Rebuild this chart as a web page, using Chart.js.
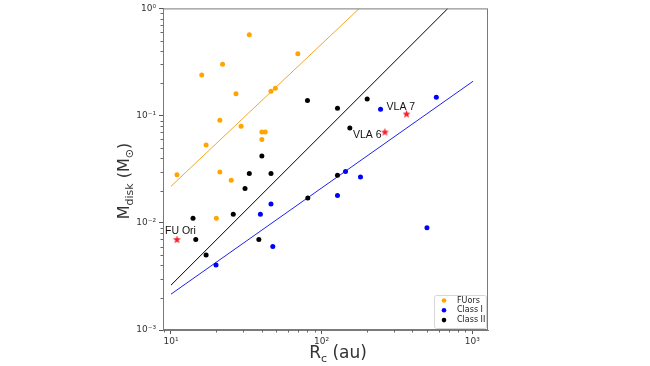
<!DOCTYPE html>
<html>
<head>
<meta charset="utf-8">
<script src="https://cdn.jsdelivr.net/npm/chart.js@4.4.1/dist/chart.umd.min.js"></script>
<style>
  html, body { margin: 0; padding: 0; background: #fff; }
  canvas { display: block; }
</style>
</head>
<body>
<canvas id="diskChart" width="650" height="366"></canvas>
<script>
// values: R_c in au, M_disk in solar masses
var fuorsR = [33.1, 69.5, 16.0, 22.0, 27.0, 46.1, 49.3, 21.1, 29.2, 40.1, 42.2, 40.1, 17.1, 10.96, 21.1, 25.1, 20.0];
var fuorsM = [0.569, 0.378, 0.239, 0.301, 0.160, 0.169, 0.180, 0.0904, 0.0795, 0.0703, 0.0703, 0.0597, 0.0532, 0.028, 0.0298, 0.0250, 0.011];

var classIR = [577, 246, 144, 181, 127.4, 500, 39.2, 46.1, 47.4, 19.9];
var classIM = [0.148, 0.1145, 0.0301, 0.0268, 0.0180, 0.00897, 0.012, 0.015, 0.0060, 0.00403];

var classIIR = [80.5, 127.4, 200.5, 153.8, 40.1, 33.1, 46.1, 31.0, 25.9, 14.0, 14.6, 17.1, 38.3, 80.9, 127.4];
var classIIM = [0.138, 0.117, 0.143, 0.0766, 0.042, 0.0288, 0.0288, 0.0209, 0.0120, 0.0110, 0.00698, 0.0050, 0.00698, 0.0170, 0.0278];

// named sources (red stars)
var starNames = ['FU Ori', 'VLA 7', 'VLA 6'];
var starR = [10.96, 366, 263];
var starM = [0.00698, 0.1035, 0.0703];

// fitted lines, two end points each
var fitFuorsR = [10, 178];
var fitFuorsM = [0.0219, 1.0];
var fitClassIIR = [10, 689];
var fitClassIIM = [0.00262, 1.0];
var fitClassIR = [10, 1011];
var fitClassIM = [0.00216, 0.209];

var xMajor = [10, 100, 1000];
var yMajor = [0.001, 0.01, 0.1, 1];

function pts(xs, ys) {
  return xs.map(function (x, i) { return { x: x, y: ys[i] }; });
}

function powLabel(v) {
  var e = Math.round(Math.log10(v));
  var sup = { '-': '\u207B', '0': '\u2070', '1': '\u00B9', '2': '\u00B2', '3': '\u00B3' };
  return '10' + String(e).split('').map(function (c) { return sup[c]; }).join('');
}

// filled red star used as point style
var starImg = document.createElement('canvas');
starImg.width = 9;
starImg.height = 9;
(function () {
  var c = starImg.getContext('2d');
  c.beginPath();
  for (var i = 0; i < 10; i++) {
    var r = i % 2 === 0 ? 4.2 : 1.8;
    var a = -Math.PI / 2 + i * Math.PI / 5;
    var px = 4.5 + r * Math.cos(a), py = 4.8 + r * Math.sin(a);
    if (i === 0) c.moveTo(px, py); else c.lineTo(px, py);
  }
  c.closePath();
  c.fillStyle = '#f0202a';
  c.fill();
})();

Chart.defaults.font.family = 'DejaVu Sans';

var extras = {
  id: 'extras',
  afterDraw: function (chart) {
    var ctx = chart.ctx;
    var a = chart.chartArea;
    var xs = chart.scales.x, ys = chart.scales.y;
    ctx.save();

    // minor ticks
    ctx.strokeStyle = '#666';
    ctx.lineWidth = 1;
    for (var e = 0; e <= 3; e++) {
      for (var k = 2; k <= 9; k++) {
        var v = k * Math.pow(10, e);
        if (v < xs.min || v > xs.max) continue;
        var px = Math.round(xs.getPixelForValue(v)) + 0.5;
        ctx.beginPath(); ctx.moveTo(px, a.bottom); ctx.lineTo(px, a.bottom + 2.5); ctx.stroke();
      }
    }
    for (var e2 = -3; e2 <= -1; e2++) {
      for (var k2 = 2; k2 <= 9; k2++) {
        var v2 = k2 * Math.pow(10, e2);
        var py = Math.round(ys.getPixelForValue(v2)) + 0.5;
        ctx.beginPath(); ctx.moveTo(a.left, py); ctx.lineTo(a.left - 2.5, py); ctx.stroke();
      }
    }

    // frame
    ctx.strokeStyle = '#7a7a7a';
    ctx.strokeRect(a.left + 0.5, a.top + 0.5, a.right - a.left - 1, a.bottom - a.top - 1);

    // star labels
    ctx.fillStyle = '#111';
    ctx.font = '10.5px "Liberation Sans"';
    ctx.textBaseline = 'alphabetic';
    var offs = [[-12, -6], [-20, -4], [-32, 6]];
    starNames.forEach(function (n, i) {
      var sx = xs.getPixelForValue(starR[i]);
      var sy = ys.getPixelForValue(starM[i]);
      ctx.fillText(n, sx + offs[i][0], sy + offs[i][1]);
    });

    // axis titles with subscripts
    function runs(parts, x, y, measureOnly) {
      var w = 0;
      parts.forEach(function (p) {
        ctx.font = p[1] + 'px "DejaVu Sans"';
        if (!measureOnly) ctx.fillText(p[0], x + w, y + p[2]);
        w += ctx.measureText(p[0]).width;
      });
      return w;
    }
    ctx.fillStyle = '#333';
    var xt = [['R', 17, 0], ['c', 11, 4], [' (au)', 17, 0]];
    var wx = runs(xt, 0, 0, true);
    runs(xt, 338 - wx / 2, 358, false);

    var yt = [['M', 16, 0], ['disk', 11, 4], [' (M', 16, 0], ['\u2299', 11, 4], [')', 16, 0]];
    var wy = runs(yt, 0, 0, true);
    ctx.save();
    ctx.translate(129, 181);
    ctx.rotate(-Math.PI / 2);
    runs(yt, -wy / 2, 0, false);
    ctx.restore();

    // legend
    var lx = 434, ly = 295, lw = 52, lh = 33;
    ctx.beginPath();
    ctx.roundRect(lx + 0.5, ly + 0.5, lw, lh, 2);
    ctx.fillStyle = 'rgba(255,255,255,0.85)';
    ctx.fill();
    ctx.strokeStyle = '#d6d6d6';
    ctx.stroke();
    var leg = [['FUors', '#ffa500'], ['Class I', '#0000ff'], ['Class II', '#000000']];
    ctx.font = '8px "DejaVu Sans"';
    ctx.textBaseline = 'middle';
    leg.forEach(function (l, i) {
      var cy = ly + 5.5 + i * 9.8;
      ctx.beginPath();
      ctx.arc(444, cy, 2.3, 0, Math.PI * 2);
      ctx.fillStyle = l[1];
      ctx.fill();
      ctx.fillStyle = '#222';
      ctx.fillText(l[0], 457, cy);
    });
    ctx.restore();
  }
};

var diskChart = new Chart(document.getElementById('diskChart'), {
  type: 'scatter',
  data: {
    datasets: [
      { label: 'named', data: pts(starR, starM), pointStyle: starImg, order: 0 },
      { label: 'FUors', data: pts(fuorsR, fuorsM), backgroundColor: '#ffa500', borderWidth: 0, pointRadius: 2.5, order: 1 },
      { label: 'Class I', data: pts(classIR, classIM), backgroundColor: '#0000ff', borderWidth: 0, pointRadius: 2.5, order: 2 },
      { label: 'Class II', data: pts(classIIR, classIIM), backgroundColor: '#000000', borderWidth: 0, pointRadius: 2.5, order: 3 },
      { type: 'line', label: 'fit FUors', data: pts(fitFuorsR, fitFuorsM), borderColor: '#f5a623', borderWidth: 1, pointRadius: 0, order: 4 },
      { type: 'line', label: 'fit Class II', data: pts(fitClassIIR, fitClassIIM), borderColor: '#000000', borderWidth: 1, pointRadius: 0, order: 5 },
      { type: 'line', label: 'fit Class I', data: pts(fitClassIR, fitClassIM), borderColor: '#2020ee', borderWidth: 1, pointRadius: 0, order: 6 }
    ]
  },
  options: {
    responsive: false,
    animation: false,
    layout: { padding: { left: 0, top: 8, right: 162, bottom: 0 } },
    plugins: { legend: { display: false }, tooltip: { enabled: false } },
    scales: {
      x: {
        type: 'logarithmic',
        min: 8.85,
        max: 1271,
        afterBuildTicks: function (s) { s.ticks = xMajor.map(function (v) { return { value: v }; }); },
        afterFit: function (s) { s.height = 36; },
        ticks: { callback: function (v) { return powLabel(v); }, autoSkip: false, maxRotation: 0, padding: 2, color: '#333', font: { size: 9 } },
        grid: { drawOnChartArea: false, tickLength: 4, color: '#555' },
        border: { display: true, color: '#7a7a7a' }
      },
      y: {
        type: 'logarithmic',
        min: 0.001,
        max: 1,
        afterBuildTicks: function (s) { s.ticks = yMajor.map(function (v) { return { value: v }; }); },
        afterFit: function (s) { s.width = 163; },
        ticks: { callback: function (v) { return powLabel(v); }, autoSkip: false, padding: 3, color: '#333', font: { size: 9 } },
        grid: { drawOnChartArea: false, tickLength: 4, color: '#555' },
        border: { display: true, color: '#7a7a7a' }
      }
    }
  },
  plugins: [extras]
});
</script>
</body>
</html>
